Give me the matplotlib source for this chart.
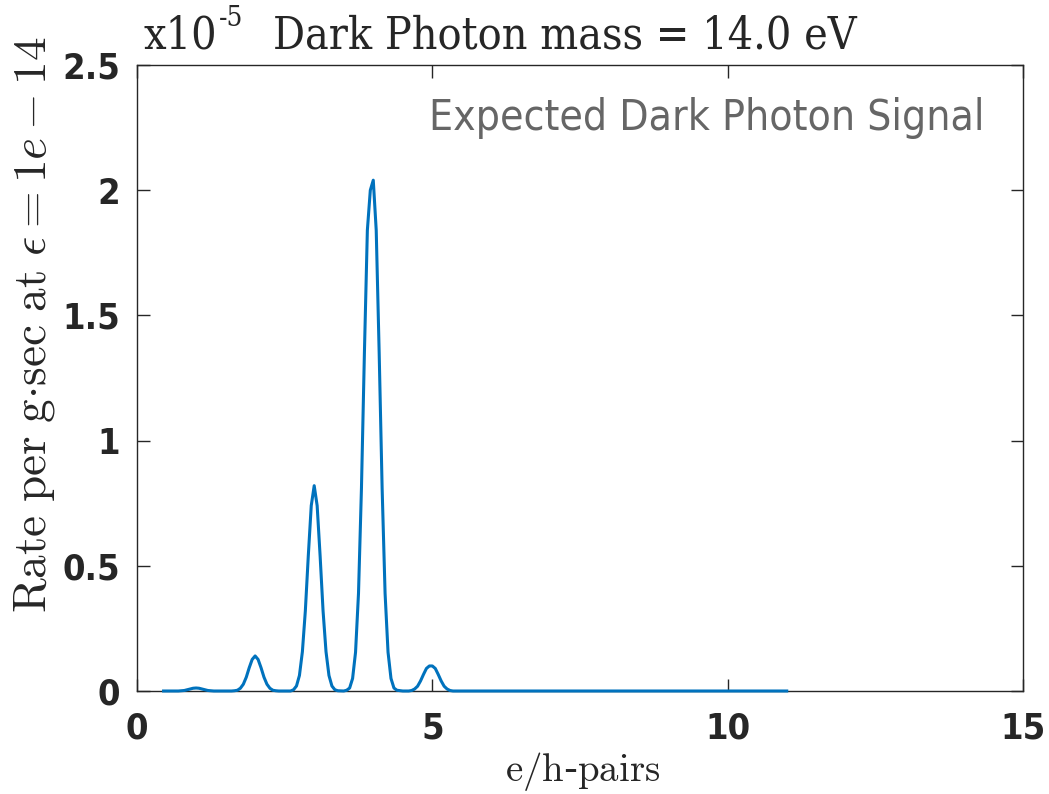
import numpy as np
import matplotlib; matplotlib.use("Agg")
import matplotlib.pyplot as plt

# e/h-pair count vs rate (units of 1e-5)
pairs = [0.45, 0.50, 0.55, 0.60, 0.65, 0.70, 0.75, 0.80, 0.85, 0.90, 0.95, 1.00,
         1.05, 1.10, 1.15, 1.20, 1.25, 1.30, 1.40, 1.50, 1.60, 1.65, 1.70, 1.75,
         1.80, 1.85, 1.90, 1.95, 2.00, 2.05, 2.10, 2.15, 2.20, 2.25, 2.30, 2.35,
         2.40, 2.50, 2.60, 2.65, 2.70, 2.75, 2.80, 2.85, 2.90, 2.95, 3.00, 3.05,
         3.10, 3.15, 3.20, 3.25, 3.30, 3.35, 3.40, 3.50, 3.55, 3.60, 3.65, 3.70,
         3.75, 3.80, 3.85, 3.90, 3.95, 4.00, 4.05, 4.10, 4.15, 4.20, 4.25, 4.30,
         4.35, 4.40, 4.50, 4.60, 4.65, 4.70, 4.75, 4.80, 4.85, 4.90, 4.95, 5.00,
         5.05, 5.10, 5.15, 5.20, 5.25, 5.30, 5.35, 5.40, 5.50, 6.00, 7.00, 8.00,
         9.00, 10.00, 11.00]
rate = [0.000, 0.000, 0.000, 0.000, 0.000, 0.000, 0.001, 0.002, 0.005, 0.008, 0.011, 0.012,
        0.011, 0.008, 0.005, 0.002, 0.001, 0.000, 0.000, 0.000, 0.000, 0.001, 0.003, 0.011,
        0.027, 0.055, 0.093, 0.126, 0.140, 0.126, 0.093, 0.055, 0.027, 0.011, 0.003, 0.001,
        0.000, 0.000, 0.000, 0.005, 0.020, 0.062, 0.157, 0.320, 0.540, 0.740, 0.820, 0.740,
        0.540, 0.320, 0.157, 0.062, 0.020, 0.005, 0.001, 0.000, 0.003, 0.012, 0.050, 0.155,
        0.390, 0.810, 1.350, 1.840, 2.000, 2.040, 1.840, 1.350, 0.810, 0.390, 0.155, 0.050,
        0.012, 0.003, 0.000, 0.000, 0.002, 0.008, 0.019, 0.040, 0.066, 0.090, 0.100, 0.100,
        0.090, 0.066, 0.040, 0.019, 0.008, 0.002, 0.000, 0.000, 0.000, 0.000, 0.000, 0.000,
        0.000, 0.000, 0.000]

xticks = [0, 5, 10, 15]
yticks = [0, 0.5, 1, 1.5, 2, 2.5]
yticklabels = ["0", "0.5", "1", "1.5", "2", "2.5"]

plt.rcParams["mathtext.fontset"] = "cm"
INK = "#262626"

fig = plt.figure(figsize=(10.49, 7.94), dpi=100)
ax = fig.add_axes([137/1049, 1 - 691/794, 886/1049, 626/794])
ax.plot(pairs, rate, color="#0072BD", lw=2.2, clip_on=False, zorder=5)
ax.set_xlim(0, 15); ax.set_ylim(0, 2.5)
ax.set_xticks(xticks); ax.set_xticklabels([str(t) for t in xticks])
ax.set_yticks(yticks); ax.set_yticklabels(yticklabels)
ax.tick_params(direction="in", length=9, width=1, color=INK,
               top=True, right=True, labelsize=26)
ax.tick_params(axis="y", pad=12)
ax.tick_params(axis="x", pad=15)
for lab in ax.get_xticklabels() + ax.get_yticklabels():
    lab.set_fontweight("bold"); lab.set_color(INK); lab.set_fontstretch("condensed")
for s in ax.spines.values():
    s.set_color(INK); s.set_linewidth(1.0)

ax.set_xlabel(r"$\mathrm{e/h}$-$\mathrm{pairs}$", fontsize=28, color=INK)
ax.xaxis.set_label_coords(0.503, -0.094)
ax.set_ylabel(r"$\mathrm{Rate\ per\ g{\cdot}sec\ at}\ \epsilon = 1e-14$", fontsize=34,
              color=INK)
ax.yaxis.set_label_coords(-0.090, 0.585)
ax.text(0.957, 0.915, "Expected Dark Photon Signal", transform=ax.transAxes,
        ha="right", va="center", fontsize=30.5, color="#666666", fontstretch="condensed")
fig.text(143/1049, 1 - 36/794, "x10", family="DejaVu Serif", fontstretch="condensed",
         fontsize=32, color=INK, va="center", ha="left")
fig.text(219/1049, 1 - 19/794, "-5", family="DejaVu Serif", fontstretch="condensed",
         fontsize=20, color=INK, va="center", ha="left")
fig.text(273/1049, 1 - 36/794, "Dark Photon mass = 14.0 eV", family="DejaVu Serif",
         fontstretch="condensed", fontsize=32, color=INK, va="center", ha="left")

fig.savefig("out.png", dpi=100)
